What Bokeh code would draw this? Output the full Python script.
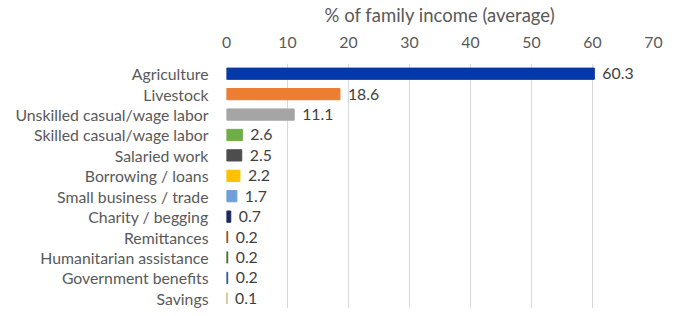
from bokeh.plotting import figure
from bokeh.models import ColumnDataSource, FixedTicker
from bokeh.embed import file_html
from bokeh.resources import INLINE
from bokeh.core.properties import value

categories = ["Agriculture", "Livestock", "Unskilled casual/wage labor", "Skilled casual/wage labor",
              "Salaried work", "Borrowing / loans", "Small business / trade", "Charity / begging",
              "Remittances", "Humanitarian assistance", "Government benefits", "Savings"]
values = [60.3, 18.6, 11.1, 2.6, 2.5, 2.2, 1.7, 0.7, 0.2, 0.2, 0.2, 0.1]
labels = ["60.3", "18.6", "11.1", "2.6", "2.5", "2.2", "1.7", "0.7", "0.2", "0.2", "0.2", "0.1"]
colors = ["#0538A8", "#ED7D31", "#A5A5A5", "#70AD47", "#4D4D4D", "#FFC000", "#6F9FD8",
          "#1A2A5C", "#9E480E", "#43682B", "#2E5597", "#C9B37E"]
x_ticks = [0, 10, 20, 30, 40, 50, 60, 70]
x_title = "% of family income (average)"

FONT = "Lato"
TXT = "#595959"
FS = "15.8px"

src = ColumnDataSource(dict(cat=categories, val=values, lab=labels, col=colors))

p = figure(width=667, height=308, y_range=list(reversed(categories)), x_range=(0, 70),
           output_backend="svg", toolbar_location=None, x_axis_location="above",
           min_border_left=226, min_border_right=14, min_border_top=61, min_border_bottom=0)
p.outline_line_color = None

p.hbar(y="cat", right="val", left=0, height=0.55, color="col", source=src)
p.text(x="val", y="cat", text="lab", source=src, x_offset=8, text_baseline="middle",
       text_font=value(FONT), text_font_size=FS, text_color="#404040")

xa = p.xaxis[0]
xa.ticker = FixedTicker(ticks=x_ticks)
xa.axis_label = x_title
xa.axis_label_text_font = FONT
xa.axis_label_text_font_style = "normal"
xa.axis_label_text_font_size = "18.5px"
xa.axis_label_text_color = TXT
xa.axis_label_standoff = 8
xa.major_label_text_font = FONT
xa.major_label_text_font_size = FS
xa.major_label_text_color = TXT
xa.axis_line_color = None
xa.major_tick_line_color = None
xa.minor_tick_line_color = None
xa.major_label_standoff = 10

ya = p.yaxis[0]
ya.major_label_text_font = FONT
ya.major_label_text_font_size = FS
ya.major_label_text_color = TXT
ya.axis_line_color = None
ya.major_tick_line_color = None
ya.minor_tick_line_color = None
ya.major_label_standoff = 12

p.ygrid.grid_line_color = None
p.xgrid.grid_line_color = "#D9D9D9"
p.xgrid.ticker = FixedTicker(ticks=x_ticks)

open("out.html", "w").write(file_html(p, INLINE))
